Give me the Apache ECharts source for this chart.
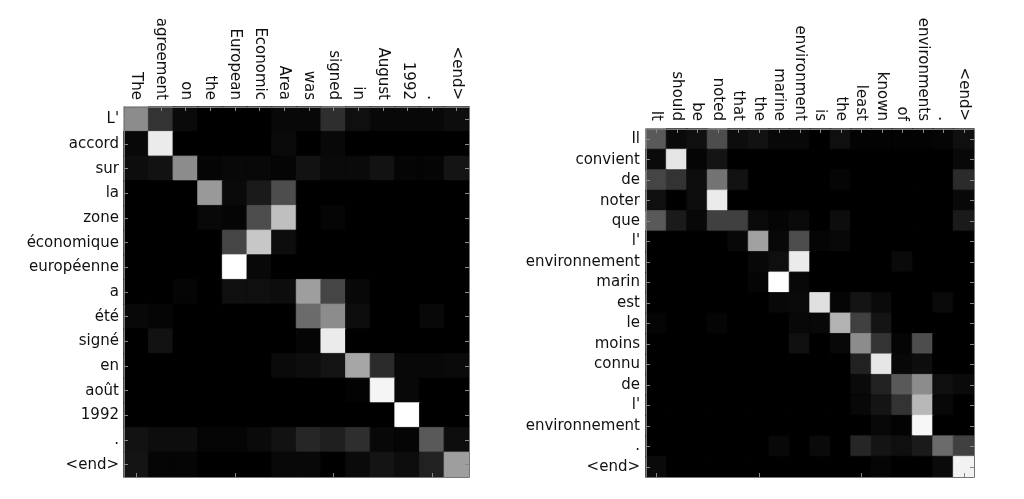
<!DOCTYPE html>
<html><head><meta charset="utf-8">
<script src="https://cdn.jsdelivr.net/npm/echarts@6/dist/echarts.min.js"></script>
<style>html,body{margin:0;padding:0;background:#fff}#c{width:1024px;height:499px}</style>
</head><body><div id="c"></div>
<script>
const srcA = ["The","agreement","on","the","European","Economic","Area","was","signed","in","August","1992",".","<end>"];
const tgtA = ["L'","accord","sur","la","zone","économique","européenne","a","été","signé","en","août","1992",".","<end>"];
const attA = [
 [0.55,0.20,0.04,0,0,0,0.03,0.03,0.18,0.06,0.03,0.03,0.03,0.05],
 [0.03,0.92,0,0,0,0,0.04,0,0.03,0,0,0,0,0],
 [0.05,0.07,0.55,0.02,0.03,0.03,0.02,0.07,0.04,0.04,0.07,0.02,0.02,0.08],
 [0,0,0,0.60,0.04,0.10,0.30,0,0,0,0,0,0,0],
 [0,0,0,0.03,0.02,0.30,0.75,0,0.02,0,0,0,0,0],
 [0,0,0,0,0.27,0.78,0.05,0,0,0,0,0,0,0],
 [0,0,0,0,1.0,0.03,0,0,0,0,0,0,0,0],
 [0,0,0.02,0,0.06,0.06,0.05,0.62,0.27,0.03,0,0,0,0],
 [0.03,0.02,0,0,0,0,0,0.42,0.55,0.05,0,0,0.03,0],
 [0,0.07,0,0,0,0,0,0.02,0.92,0,0,0,0,0],
 [0,0,0,0,0,0,0.04,0.05,0.08,0.65,0.17,0.03,0.03,0.04],
 [0,0,0,0,0,0,0,0,0,0.01,0.96,0.03,0,0],
 [0,0,0,0,0,0,0,0,0,0,0,1.0,0,0],
 [0.07,0.05,0.05,0.02,0.02,0.04,0.07,0.15,0.12,0.18,0.03,0.02,0.35,0.05],
 [0.08,0.02,0.02,0,0,0,0.03,0.03,0,0.04,0.08,0.05,0.13,0.62]
];
const srcB = ["It","should","be","noted","that","the","marine","environment","is","the","least","known","of","environments",".","<end>"];
const tgtB = ["Il","convient","de","noter","que","l'","environnement","marin","est","le","moins","connu","de","l'","environnement",".","<end>"];
const attB = [
 [0.35,0.04,0.06,0.30,0.05,0.07,0.03,0.03,0,0.06,0.01,0.01,0.01,0.01,0.02,0.06],
 [0.04,0.90,0.02,0.08,0,0,0,0,0,0,0,0,0,0,0,0.03],
 [0.27,0.20,0.05,0.45,0.07,0,0,0,0,0.02,0,0,0,0,0,0.17],
 [0.06,0,0.05,0.92,0,0,0,0,0,0,0,0,0,0,0,0.03],
 [0.35,0.10,0.03,0.25,0.25,0.04,0.02,0.04,0,0.05,0,0,0,0,0,0.10],
 [0,0,0,0,0.03,0.63,0.03,0.30,0.02,0.03,0,0,0,0,0,0],
 [0,0,0,0,0,0.03,0.06,0.92,0,0,0,0,0.04,0,0,0],
 [0,0,0,0,0,0.02,1.0,0.03,0,0,0,0,0,0,0,0],
 [0,0,0,0,0,0,0.03,0.04,0.88,0.02,0.08,0.04,0,0,0.04,0],
 [0.02,0,0,0.02,0,0,0,0.03,0.03,0.70,0.25,0.08,0,0,0,0],
 [0,0,0,0,0,0,0,0.06,0,0.03,0.55,0.20,0.02,0.30,0,0],
 [0,0,0,0,0,0,0,0,0,0,0.13,0.90,0.03,0.05,0,0],
 [0,0,0,0,0,0,0,0,0,0,0.04,0.13,0.35,0.55,0.06,0.04],
 [0,0,0,0,0,0,0,0,0,0,0.03,0.08,0.20,0.72,0.03,0],
 [0,0,0,0,0,0,0,0,0,0,0,0.03,0.01,0.97,0,0],
 [0,0,0,0,0,0,0.03,0,0.04,0,0.15,0.08,0.06,0.10,0.42,0.25],
 [0.04,0,0,0,0,0,0,0,0,0,0,0.02,0,0,0.04,0.95]
];
function gray(v){const g=Math.round(255*Math.max(0,Math.min(1,v)));return 'rgb('+g+','+g+','+g+')';}
function toData(m){const d=[];m.forEach((r,i)=>r.forEach((v,j)=>{const c=gray(v);d.push({value:[j,i,v],itemStyle:{color:c,borderColor:c,borderWidth:0.8}});}));return d;}
const font = {fontFamily:'DejaVu Sans',fontSize:15,color:'#111'};
const frame = {show:true,lineStyle:{color:'#777',width:1}};
const tick = {show:true,inside:true,length:4,alignWithLabel:true,lineStyle:{color:'#888'}};
function axesFor(gi, src, tgt, xgap, ygap){
  return {
    x:[
      {type:'category',gridIndex:gi,data:src,position:'top',axisLine:frame,axisTick:tick,
       axisLabel:Object.assign({rotate:90,margin:xgap,interval:0},font),splitLine:{show:false},z:5},
      {type:'category',gridIndex:gi,data:src,position:'bottom',axisLine:frame,axisTick:tick,
       axisLabel:{show:false},splitLine:{show:false},z:5}
    ],
    y:[
      {type:'category',gridIndex:gi,data:tgt,inverse:true,position:'left',axisLine:frame,axisTick:tick,
       axisLabel:Object.assign({margin:ygap,interval:0},font),splitLine:{show:false},z:5},
      {type:'category',gridIndex:gi,data:tgt,inverse:true,position:'right',axisLine:frame,axisTick:tick,
       axisLabel:{show:false},splitLine:{show:false},z:5}
    ]
  };
}
const a = axesFor(0, srcA, tgtA, 7, 5);
const b = axesFor(1, srcB, tgtB, 8, 6);
const chart = echarts.init(document.getElementById('c'));
chart.setOption({
  backgroundColor:'#fff',
  animation:false,
  grid:[{left:124,top:107,width:345,height:370},{left:646,top:129,width:328,height:348}],
  xAxis:[...a.x,...b.x],
  yAxis:[...a.y,...b.y],
  series:[
    {type:'heatmap',xAxisIndex:0,yAxisIndex:0,data:toData(attA)},
    {type:'heatmap',xAxisIndex:2,yAxisIndex:2,data:toData(attB)}
  ]
});
</script></body></html>
